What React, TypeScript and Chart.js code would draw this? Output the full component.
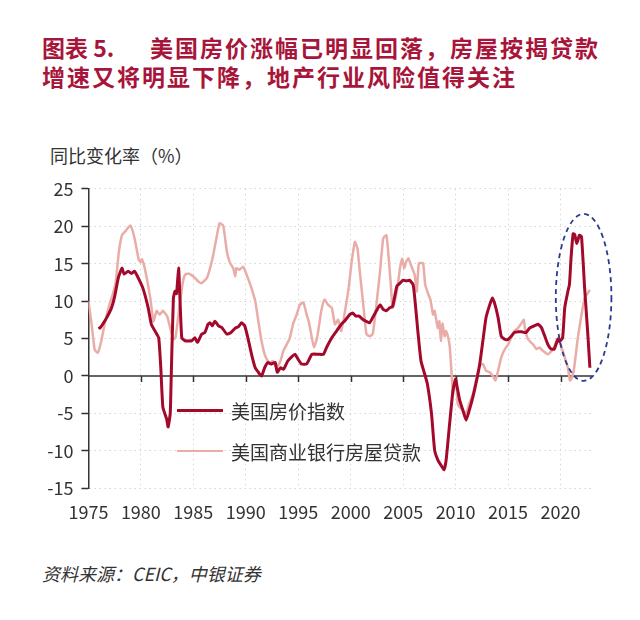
import React, { useEffect, useRef } from "react";
import { Chart, registerables } from "chart.js";

Chart.register(...registerables);

// ---------- data ----------
const priceDates = [
  1976.0, 1976.1, 1976.4, 1976.75, 1977.2, 1977.5, 1977.85, 1978.2, 1978.4, 1978.8,
  1979.1, 1979.4, 1979.75, 1980.2, 1980.7, 1981.0, 1981.35, 1981.7, 1981.9, 1982.1,
  1982.45, 1982.6, 1982.8, 1982.9, 1983.1, 1983.25, 1983.4, 1983.6, 1983.7, 1983.9,
  1984.2, 1984.85, 1985.15, 1985.4, 1985.8, 1986.1, 1986.4, 1986.6, 1986.8, 1987.05,
  1987.4, 1987.7, 1988.2, 1988.6, 1989.0, 1989.3, 1989.6, 1989.9, 1990.2, 1990.55,
  1990.9, 1991.2, 1991.5, 1991.8, 1992.1, 1992.4, 1992.8, 1993.0, 1993.3, 1993.6,
  1994.0, 1994.4, 1994.7, 1995.0, 1995.3, 1995.8, 1996.3, 1996.9, 1997.4, 1997.7,
  1998.2, 1998.65, 1999.1, 1999.4, 1999.9, 2000.2, 2000.5, 2000.8, 2001.2, 2001.5,
  2001.8, 2002.1, 2002.45, 2002.8, 2003.1, 2003.4, 2003.7, 2004.0, 2004.4, 2004.7,
  2005.0, 2005.3, 2005.6, 2005.95, 2006.1, 2006.4, 2006.7, 2007.0, 2007.3, 2007.7,
  2008.0, 2008.3, 2008.6, 2008.9, 2009.1, 2009.4, 2009.75, 2010.0, 2010.15, 2010.4,
  2010.7, 2011.0, 2011.3, 2011.65, 2012.0, 2012.3, 2012.6, 2012.9, 2013.25, 2013.5,
  2013.7, 2014.05, 2014.35, 2014.7, 2015.0, 2015.3, 2015.6, 2016.0, 2016.3, 2016.7,
  2017.05, 2017.5, 2017.9, 2018.2, 2018.5, 2018.8, 2019.1, 2019.4, 2019.75, 2019.9,
  2020.2, 2020.4, 2020.7, 2020.85, 2021.0, 2021.2, 2021.35, 2021.55, 2021.8, 2022.0,
  2022.3, 2022.6, 2022.8,
];
const priceValues = [
  6.6, 6.4, 7.0, 7.8, 9.1, 10.6, 13.1, 14.4, 13.6, 14.0,
  13.7, 14.0, 13.1, 11.7, 9.1, 6.9, 6.0, 5.1, 1.1, -4.2,
  -5.7, -6.8, -5.0, 0.3, 10.4, 11.3, 11.0, 14.4, 11.3, 5.1,
  4.7, 4.7, 5.1, 4.5, 5.6, 5.8, 6.9, 7.1, 6.7, 7.3,
  6.7, 6.5, 5.6, 5.8, 6.4, 6.6, 7.1, 6.7, 5.1, 2.9,
  1.1, 0.5, 0.0, 1.1, 1.8, 1.6, 1.8, 0.5, 1.1, 0.9,
  2.0, 2.6, 2.9, 2.2, 1.6, 1.6, 2.9, 2.9, 2.9, 3.8,
  5.1, 6.0, 6.9, 7.3, 8.2, 8.4, 8.0, 8.0, 7.5, 7.3,
  7.1, 7.8, 8.7, 9.5, 8.9, 8.7, 9.1, 9.3, 12.0, 12.4,
  12.8, 12.7, 12.8, 12.2, 10.5, 6.0, 2.0, 0.5, -1.0, -5.0,
  -9.9, -11.2, -11.9, -12.5, -11.2, -6.8, -1.9, -0.4, -1.5, -3.3,
  -4.6, -5.9, -4.6, -2.8, -0.6, 1.6, 4.7, 7.8, 9.5, 10.4,
  9.8, 7.8, 5.3, 4.9, 4.9, 5.3, 5.8, 5.9, 5.9, 5.8,
  6.4, 6.7, 6.9, 6.4, 5.3, 4.2, 3.6, 3.6, 4.9, 4.6,
  5.1, 9.1, 11.3, 12.2, 15.7, 19.0, 18.9, 17.7, 18.8, 18.6,
  11.7, 5.6, 1.1,
];

const loanDates = [
  1975.0, 1975.3, 1975.6, 1975.9, 1976.2, 1976.6, 1977.0, 1977.3, 1977.6, 1977.9,
  1978.2, 1978.5, 1979.0, 1979.4, 1979.8, 1980.0, 1980.1, 1980.4, 1980.9, 1981.2,
  1981.5, 1981.8, 1982.1, 1982.5, 1982.8, 1983.1, 1983.3, 1983.7, 1984.0, 1984.2,
  1984.5, 1984.8, 1985.15, 1985.5, 1985.8, 1986.3, 1986.6, 1986.9, 1987.2, 1987.5,
  1987.85, 1988.2, 1988.5, 1988.8, 1989.0, 1989.1, 1989.4, 1989.75, 1989.9, 1990.2,
  1990.55, 1990.9, 1991.2, 1991.5, 1991.8, 1992.1, 1992.3, 1992.6, 1992.9, 1993.25,
  1993.6, 1993.9, 1994.2, 1994.5, 1994.85, 1995.15, 1995.5, 1995.8, 1996.0, 1996.3,
  1996.5, 1996.8, 1997.2, 1997.5, 1997.85, 1998.2, 1998.5, 1998.8, 1999.1, 1999.4,
  1999.8, 2000.1, 2000.4, 2000.65, 2000.9, 2001.2, 2001.5, 2001.8, 2002.1, 2002.45,
  2002.8, 2003.1, 2003.4, 2003.55, 2003.8, 2004.0, 2004.2, 2004.45, 2004.7, 2004.9,
  2005.1, 2005.3, 2005.5, 2005.8, 2006.1, 2006.3, 2006.5, 2006.9, 2007.1, 2007.4,
  2007.6, 2007.85, 2008.0, 2008.3, 2008.45, 2008.6, 2008.75, 2008.95, 2009.1, 2009.3,
  2009.45, 2009.6, 2009.75, 2009.9, 2010.1, 2010.2, 2010.4, 2010.7, 2011.0, 2011.3,
  2011.65, 2012.0, 2012.3, 2012.6, 2012.9, 2013.25, 2013.55, 2013.8, 2014.05, 2014.35,
  2014.7, 2015.0, 2015.3, 2015.6, 2015.95, 2016.3, 2016.5, 2016.6, 2016.9, 2017.4,
  2017.7, 2018.0, 2018.3, 2018.8, 2019.3, 2019.75, 2020.1, 2020.4, 2020.7, 2020.9,
  2021.1, 2021.3, 2021.65, 2022.0, 2022.3, 2022.8,
];
const loanValues = [
  10.0, 7.0, 3.5, 3.1, 4.5, 7.3, 9.5, 10.8, 12.5, 16.5,
  18.8, 19.3, 20.1, 18.4, 15.5, 15.2, 15.6, 14.2, 10.4, 7.3,
  8.7, 8.2, 8.7, 8.0, 6.4, 4.9, 5.1, 9.5, 12.5, 13.5,
  13.7, 13.5, 13.1, 12.6, 12.4, 13.1, 14.4, 16.2, 18.4, 20.4,
  20.1, 16.6, 15.1, 14.4, 13.3, 14.4, 14.2, 14.6, 14.2, 13.1,
  11.7, 10.0, 7.3, 4.7, 2.9, 2.0, 1.8, 2.0, 1.1, 1.8,
  3.4, 4.2, 5.1, 6.9, 8.2, 9.5, 9.8, 8.2, 7.3, 5.1,
  3.8, 5.1, 8.7, 10.2, 9.5, 9.1, 6.9, 7.5, 6.0, 8.2,
  11.7, 15.3, 17.9, 17.0, 13.5, 9.5, 5.6, 5.3, 5.6, 9.5,
  14.0, 18.4, 18.8, 17.0, 12.6, 9.1, 10.0, 11.7, 14.4, 15.7,
  14.4, 15.3, 15.7, 14.6, 13.5, 11.3, 15.05, 15.05, 12.2, 10.9,
  10.2, 8.2, 8.7, 6.4, 7.3, 4.7, 7.0, 5.3, 6.0, 5.1,
  3.8, 0.7, -2.4, -1.5, -1.1, -3.7, -4.2, -4.6, -5.0, -3.7,
  -2.4, -0.2, 1.4, 1.6, 0.7, 0.5, 0.0, -0.6, 0.7, 2.5,
  3.6, 4.2, 5.1, 6.0, 6.4, 7.1, 7.5, 6.4, 4.9, 4.2,
  3.6, 3.8, 3.4, 2.9, 3.6, 5.1, 3.8, 2.5, 1.1, -0.6,
  -0.2, 1.1, 5.1, 8.2, 10.4, 11.5,
];

const yearTicks = [1975, 1980, 1985, 1990, 1995, 2000, 2005, 2010, 2015, 2020];
const valueTicks = [-15, -10, -5, 0, 5, 10, 15, 20, 25];
const seriesNames = ["美国房价指数", "美国商业银行房屋贷款"];
const titlePrefix = "图表 5.";
const titleLine1 = "美国房价涨幅已明显回落，房屋按揭贷款";
const titleLine2 = "增速又将明显下降，地产行业风险值得关注";
const yAxisTitle = "同比变化率（%）";
const sourceText = "资料来源：CEIC，中银证券";
const highlight = { x: 2022.2, y: 10.5, rx: 2.65, ry: 11.15 };

const RED = "#a3092b";
const PINK = "#eaaca6";
const GRID = "#d6d6d6";
const FONT = "'Noto Sans CJK SC', 'Noto Sans', sans-serif";

const decorPlugin = {
  id: "decor",
  beforeDatasetsDraw(chart: any) {
    const { ctx, chartArea, scales } = chart;
    const y0 = scales.y.getPixelForValue(0);
    ctx.save();
    ctx.strokeStyle = "#333";
    ctx.lineWidth = 1.5;
    ctx.beginPath();
    ctx.moveTo(chartArea.left, y0);
    ctx.lineTo(chartArea.right, y0);
    for (const t of yearTicks) {
      if (t === yearTicks[0]) continue;
      const px = Math.round(scales.x.getPixelForValue(t)) + 0.5;
      ctx.moveTo(px, y0);
      ctx.lineTo(px, y0 + 6);
    }
    ctx.stroke();
    ctx.restore();
  },
  afterDraw(chart: any) {
    const { ctx, scales } = chart;
    const cx = scales.x.getPixelForValue(highlight.x);
    const cy = scales.y.getPixelForValue(highlight.y);
    const rx = Math.abs(scales.x.getPixelForValue(highlight.x + highlight.rx) - cx);
    const ry = Math.abs(scales.y.getPixelForValue(highlight.y + highlight.ry) - cy);
    ctx.save();
    ctx.strokeStyle = "#2b3a8f";
    ctx.lineWidth = 1.8;
    ctx.setLineDash([5, 4]);
    ctx.beginPath();
    ctx.ellipse(cx, cy, rx, ry, 0, 0, Math.PI * 2);
    ctx.stroke();
    ctx.restore();
  },
};

export default function App() {
  const canvasRef = useRef<HTMLCanvasElement | null>(null);

  useEffect(() => {
    const canvas = canvasRef.current;
    if (!canvas) return;
    const chart = new Chart(canvas, {
      type: "line",
      data: {
        datasets: [
          {
            label: seriesNames[0],
            data: priceDates.map((d, i) => ({ x: d, y: priceValues[i] })),
            borderColor: RED,
            borderWidth: 3,
            pointRadius: 0,
            tension: 0.15,
          },
          {
            label: seriesNames[1],
            data: loanDates.map((d, i) => ({ x: d, y: loanValues[i] })),
            borderColor: PINK,
            borderWidth: 2.5,
            pointRadius: 0,
            tension: 0.15,
          },
        ],
      },
      options: {
        animation: false,
        responsive: false,
        layout: { padding: { top: 16, right: 48, left: 0, bottom: 0 } },
        plugins: { legend: { display: false }, tooltip: { enabled: false } },
        scales: {
          x: {
            type: "linear",
            min: 1975,
            max: 2023,
            afterBuildTicks: (s: any) => {
              s.ticks = yearTicks.map((v) => ({ value: v }));
            },
            afterFit: (s: any) => {
              s.height = 51.7;
            },
            grid: {
              color: GRID,
              lineWidth: 1,
              drawTicks: false,
            },
            border: { display: false, dash: [1.5, 3.5] },
            ticks: {
              padding: 13,
              color: "#333",
              font: { family: FONT, size: 18 },
              maxRotation: 0,
              autoSkip: false,
              callback: (v: any) => String(v),
            },
          },
          y: {
            type: "linear",
            min: -15,
            max: 25,
            afterBuildTicks: (s: any) => {
              s.ticks = valueTicks.map((v) => ({ value: v }));
            },
            afterFit: (s: any) => {
              s.width = 88.4;
            },
            grid: {
              color: (c: any) => (c.tick && c.tick.value === 0 ? "rgba(0,0,0,0)" : GRID),
              lineWidth: 1,
              drawTicks: true,
              tickLength: 7,
              tickColor: "#333",
              tickWidth: 1.5,
              tickBorderDash: [],
            },
            border: { display: true, color: "#333", width: 1.5, dash: [1.5, 3.5] },
            ticks: {
              padding: 8,
              color: "#333",
              font: { family: FONT, size: 18 },
              callback: (v: any) => String(v),
            },
          },
        },
      },
      plugins: [decorPlugin],
    });
    return () => chart.destroy();
  }, []);

  const legendRow = (top: number, color: string, width: number, text: string) => (
    <div style={{ position: "absolute", left: 177, top: top - 14, height: 28, display: "flex", alignItems: "center" }}>
      <div style={{ width: 46, height: width, background: color }} />
      <span style={{ marginLeft: 8, fontSize: 19, color: "#333", fontFamily: FONT, whiteSpace: "nowrap" }}>{text}</span>
    </div>
  );

  return (
    <div
      style={{
        position: "absolute",
        left: 0,
        top: 0,
        width: 640,
        height: 620,
        background: "#fff",
        overflow: "hidden",
        fontFamily: FONT,
      }}
    >
      <div style={{ position: "absolute", left: 42, top: 33, fontSize: 23, fontWeight: 700, color: "#a8153a", whiteSpace: "nowrap", lineHeight: "28px" }}>
        {titlePrefix}
      </div>
      <div style={{ position: "absolute", left: 150, top: 33, fontSize: 23, fontWeight: 700, color: "#a8153a", letterSpacing: 2, whiteSpace: "nowrap", lineHeight: "28px" }}>
        {titleLine1}
      </div>
      <div style={{ position: "absolute", left: 42, top: 62, fontSize: 23, fontWeight: 700, color: "#a8153a", letterSpacing: 2, whiteSpace: "nowrap", lineHeight: "28px" }}>
        {titleLine2}
      </div>
      <div style={{ position: "absolute", left: 50, top: 143, fontSize: 18, color: "#333", whiteSpace: "nowrap", lineHeight: "24px" }}>
        {yAxisTitle}
      </div>
      <canvas
        ref={canvasRef}
        width={640}
        height={370}
        style={{ position: "absolute", left: 0, top: 170, width: 640, height: 370 }}
      />
      {legendRow(410, RED, 3, seriesNames[0])}
      {legendRow(451, PINK, 2.5, seriesNames[1])}
      <div style={{ position: "absolute", left: 42, top: 561, fontSize: 18, fontStyle: "italic", color: "#333", whiteSpace: "nowrap", lineHeight: "24px" }}>
        {sourceText}
      </div>
    </div>
  );
}
